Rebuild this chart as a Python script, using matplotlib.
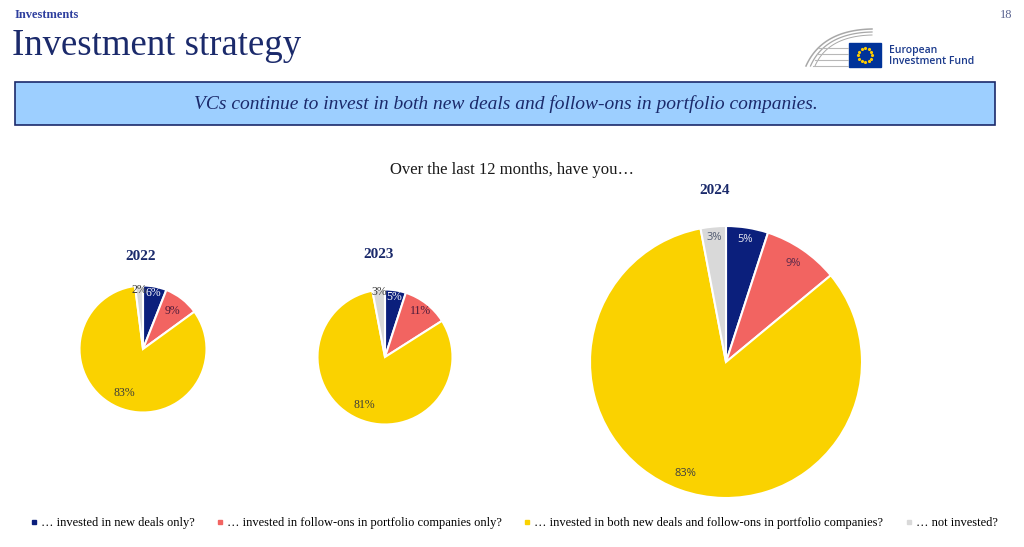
import numpy as np
import matplotlib.pyplot as plt
from matplotlib.patches import Rectangle
from matplotlib.lines import Line2D

years = ["2022", "2023", "2024"]
categories = ["… invested in new deals only?",
              "… invested in follow-ons in portfolio companies only?",
              "… invested in both new deals and follow-ons in portfolio companies?",
              "… not invested?"]
shares_2022 = [6, 9, 83, 2]
shares_2023 = [5, 11, 81, 3]
shares_2024 = [5, 9, 83, 3]
shares = [shares_2022, shares_2023, shares_2024]

colors = ["#0B1F7C", "#F26461", "#FAD200", "#D9D9D9"]
navy = "#1B2A6B"
W, H = 1024, 547

fig = plt.figure(figsize=(W / 100, H / 100), dpi=100)
ax = fig.add_axes([0, 0, 1, 1])
serif = "Liberation Serif"


def px(x, y):
    return x, H - y


# header
ax.text(*px(15, 15), "Investments", fontsize=9, fontweight="bold", family=serif,
        color="#2E3F9E", va="center", ha="left")
ax.text(*px(12, 46), "Investment strategy", fontsize=26.5, family=serif,
        color=navy, va="center", ha="left")
ax.text(*px(1012, 15), "18", fontsize=9, family=serif, color="#5A6390",
        va="center", ha="right")

# logo: curved roof lines + flag + name
t = np.linspace(0, 1, 40)
for i, off in enumerate([0, 3, 6]):
    p0 = np.array([806 + off * 1.5, 66])
    p1 = np.array([822 + off, 30 + off])
    p2 = np.array([872, 29 + off])
    pts = ((1 - t)[:, None] ** 2 * p0 + 2 * ((1 - t) * t)[:, None] * p1
           + (t ** 2)[:, None] * p2)
    ax.plot(pts[:, 0], H - pts[:, 1], color="#A8A8A8", lw=1.1 - 0.2 * i)
for yy in [48, 54, 60, 66]:
    ax.plot([813 + (66 - yy) * 0.3, 848], [H - yy, H - yy], color="#B8B8B8", lw=0.8)
ax.add_patch(Rectangle(px(849, 67), 32, 24, color="#003399"))
star_a = np.linspace(0, 2 * np.pi, 12, endpoint=False)
ax.scatter(865 + 7 * np.cos(star_a), H - 55 + 7 * np.sin(star_a), s=2,
           marker="*", color="#FFCC00", zorder=5)
ax.text(*px(889, 50), "European", fontsize=7.5, family="Open Sans",
        fontweight="semibold", color="#1B3A8C", va="center")
ax.text(*px(889, 62), "Investment Fund", fontsize=7.5, family="Open Sans",
        fontweight="semibold", color="#1B3A8C", va="center")

# banner
ax.add_patch(Rectangle(px(15, 125), 980, 43, facecolor="#9DCFFF",
                       edgecolor="#1B2A6B", lw=1.2))
ax.text(*px(506, 104),
        "VCs continue to invest in both new deals and follow-ons in portfolio companies.",
        fontsize=14, style="italic", family=serif, color=navy,
        ha="center", va="center")

ax.text(*px(512, 170), "Over the last 12 months, have you…", fontsize=12,
        family=serif, color="#1A1A1A", ha="center", va="center")

# pies
centers = [(143, 349), (385, 357), (726, 362)]
radii = [63.5, 67.5, 136]
title_pos = [(141, 256), (379, 255), (715, 190)]
label_dist = [[0.89, 0.76, 0.75, 0.93],
              [0.90, 0.87, 0.78, 0.96],
              [0.91, 0.88, 0.87, 0.92]]
label_colors = ["white", "#4A1A3A", "#3A3A3A", "#3A3A3A"]

for k in range(3):
    c = px(*centers[k])
    r = radii[k]
    wedges, _ = ax.pie(shares[k], colors=colors, center=c, radius=r,
                       startangle=90, counterclock=False,
                       wedgeprops=dict(edgecolor="white", linewidth=1.5))
    for j, w in enumerate(wedges):
        mid = np.deg2rad((w.theta1 + w.theta2) / 2)
        d = label_dist[k][j] * r
        fam = "Open Sans" if k == 2 else serif
        col = label_colors[j]
        if k == 2:
            col = ["#E8E8F0", "#5A2A4A", "#404040", "#505A70"][j]
        ax.text(c[0] + d * np.cos(mid), c[1] + d * np.sin(mid),
                f"{shares[k][j]}%", fontsize=8.5 if k < 2 else 8, family=fam,
                color=col, ha="center", va="center")
    ax.text(*px(*title_pos[k]), years[k], fontsize=11, fontweight="bold",
            family=serif, color=navy, ha="center", va="center")

ax.set_xlim(0, W)
ax.set_ylim(0, H)
ax.axis("off")

# legend
handles = [Line2D([], [], marker="s", ls="", color=col, markersize=3)
           for col in colors]
fig.legend(handles, categories, loc="center", bbox_to_anchor=(0.502, 1 - 523 / H),
           ncol=4, frameon=False, handlelength=0.5, handletextpad=0.3,
           columnspacing=1.8, prop=dict(family=serif, size=9))

fig.savefig("out.png", dpi=100)
